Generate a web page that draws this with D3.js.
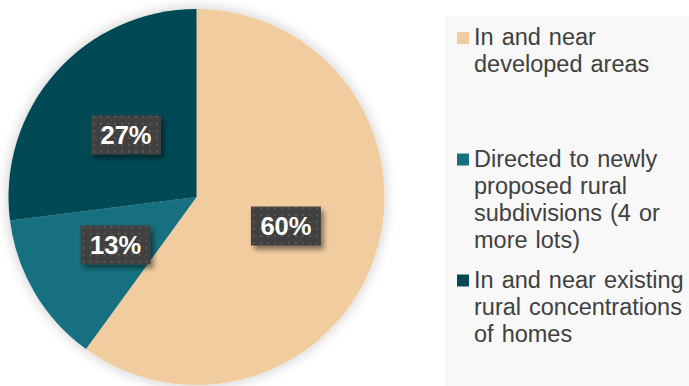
<!DOCTYPE html>
<html>
<head>
<meta charset="utf-8">
<script src="https://cdn.jsdelivr.net/npm/d3@7"></script>
<style>
  html, body { margin: 0; padding: 0; background: #ffffff; }
  svg { display: block; }
  text { font-family: "Liberation Sans", Arial, Helvetica, sans-serif; }
</style>
</head>
<body>
<div id="chart"></div>
<script>
// Share of projected new homes by location
const categories = [
  "In and near developed areas",
  "Directed to newly proposed rural subdivisions (4 or more lots)",
  "In and near existing rural concentrations of homes"
];
const legendLines = [
  ["In and near", "developed areas"],
  ["Directed to newly", "proposed rural", "subdivisions (4 or", "more lots)"],
  ["In and near existing", "rural concentrations", "of homes"]
];
const shares = [60, 13, 27];
const colors = ["#f0cc9f", "#157080", "#064954"];

const W = 689, H = 386;
const cx = 196.5, cy = 197, R = 188;

const svg = d3.select("#chart").append("svg")
  .attr("width", W).attr("height", H);

const defs = svg.append("defs");

// soft glow behind the pie
const glow = defs.append("filter").attr("id", "pieGlow")
  .attr("x", "-20%").attr("y", "-20%").attr("width", "140%").attr("height", "140%");
glow.append("feGaussianBlur").attr("in", "SourceAlpha").attr("stdDeviation", 7).attr("result", "b");
glow.append("feComponentTransfer").attr("in", "b").attr("result", "s")
  .append("feFuncA").attr("type", "linear").attr("slope", 0.22);
const gm = glow.append("feMerge");
gm.append("feMergeNode").attr("in", "s");
gm.append("feMergeNode").attr("in", "SourceGraphic");

// drop shadow for the value boxes
const shadow = defs.append("filter").attr("id", "boxShadow")
  .attr("x", "-30%").attr("y", "-30%").attr("width", "170%").attr("height", "180%");
shadow.append("feGaussianBlur").attr("in", "SourceAlpha").attr("stdDeviation", 2.5).attr("result", "b");
shadow.append("feOffset").attr("in", "b").attr("dx", 3).attr("dy", 4).attr("result", "o");
shadow.append("feComponentTransfer").attr("in", "o").attr("result", "s")
  .append("feFuncA").attr("type", "linear").attr("slope", 0.45);
const sm = shadow.append("feMerge");
sm.append("feMergeNode").attr("in", "s");
sm.append("feMergeNode").attr("in", "SourceGraphic");

// dotted texture for the value boxes
const pat = defs.append("pattern").attr("id", "dots")
  .attr("width", 7).attr("height", 7).attr("patternUnits", "userSpaceOnUse");
pat.append("rect").attr("width", 7).attr("height", 7).attr("fill", "#404040");
pat.append("rect").attr("x", 2).attr("y", 2).attr("width", 2).attr("height", 2).attr("fill", "#585858");

// legend panel
svg.append("rect")
  .attr("x", 445).attr("y", 16).attr("width", W - 445).attr("height", H - 16)
  .attr("fill", "#f8f8f8");

const pie = d3.pie().sort(null).value(d => d);
const arcs = pie(shares);
const arc = d3.arc().innerRadius(0).outerRadius(R);

const g = svg.append("g").attr("transform", `translate(${cx},${cy})`);
const slices = g.append("g").attr("filter", "url(#pieGlow)");
slices.selectAll("path").data(arcs).join("path")
  .attr("d", arc)
  .attr("fill", (d, i) => colors[i]);

// value boxes at the slice centroids
const boxW = 70, boxH = 39;
const labels = g.selectAll("g.lbl").data(arcs).join("g")
  .attr("class", "lbl")
  .attr("transform", d => {
    const [x, y] = arc.centroid(d);
    return `translate(${x},${y})`;
  });
labels.append("rect")
  .attr("x", -boxW / 2).attr("y", -boxH / 2)
  .attr("width", boxW).attr("height", boxH)
  .attr("fill", "url(#dots)")
  .attr("filter", "url(#boxShadow)");
labels.append("text")
  .attr("text-anchor", "middle")
  .attr("y", 9)
  .attr("font-weight", "bold")
  .attr("font-size", 25.5)
  .attr("fill", "#ffffff")
  .text(d => d.data + "%");

// legend entries
const baselines = [45, 166.5, 287.5];
const lineH = 27;
const leg = svg.append("g");
legendLines.forEach((lines, i) => {
  leg.append("rect")
    .attr("x", 457).attr("y", baselines[i] - 13)
    .attr("width", 12).attr("height", 12)
    .attr("fill", colors[i]);
  const t = leg.append("text")
    .attr("x", 474).attr("y", baselines[i])
    .attr("font-size", 23.5)
    .attr("word-spacing", 1.5)
    .attr("fill", "#404040");
  lines.forEach((ln, j) => {
    t.append("tspan").attr("x", 474).attr("y", baselines[i] + j * lineH).text(ln);
  });
});
</script>
</body>
</html>
